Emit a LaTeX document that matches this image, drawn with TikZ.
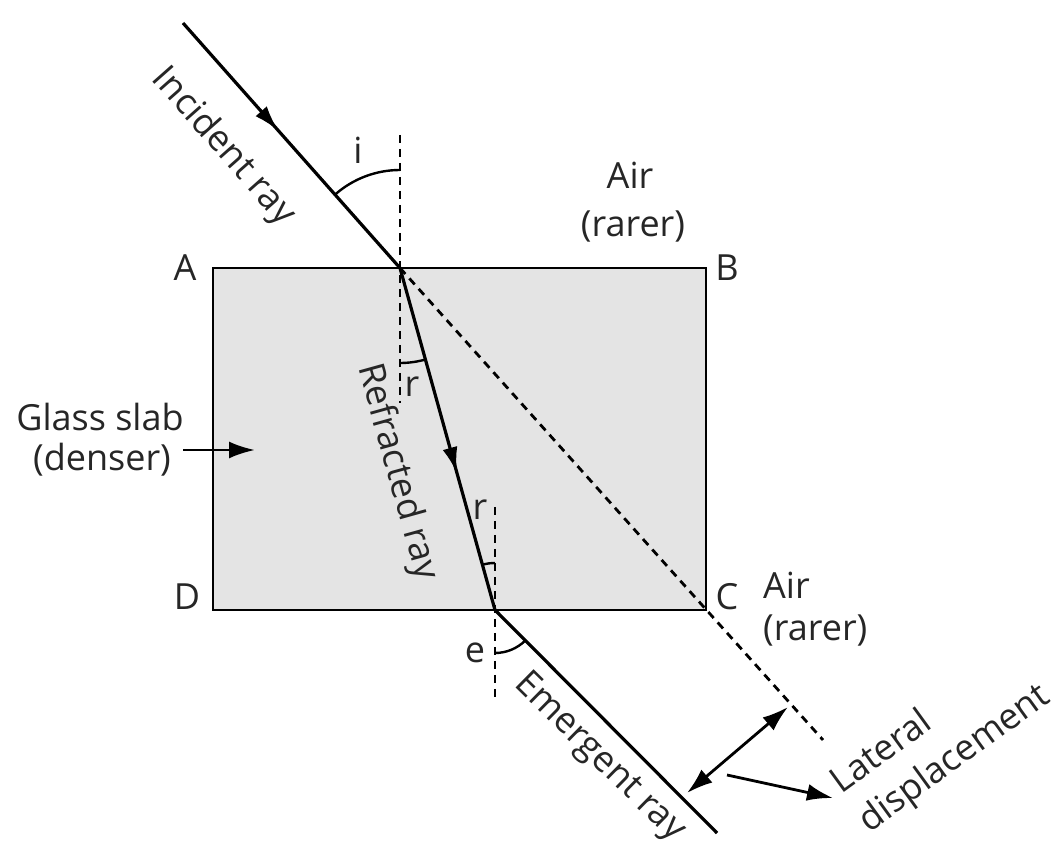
\documentclass[tikz,border=0pt]{standalone}
\usepackage{fontspec}
\setmainfont{Open Sans}
\usetikzlibrary{arrows.meta,decorations.markings}
\definecolor{slabgray}{RGB}{228,228,228}
\begin{document}
\begin{tikzpicture}[x=1pt,y=1pt,
  ray/.style={line width=3.2pt},
  normline/.style={line width=2.8pt, dash pattern=on 8pt off 6pt},
  anglearc/.style={line width=2.4pt},
  lbl/.style={font=\fontsize{36}{44}\selectfont, inner sep=0pt, align=center, text=black!85},
  arrowmark/.style={postaction={decorate}, decoration={markings, mark=at position #1 with {\arrow{Latex[length=26pt,width=15pt]}}}},
  tip/.style={-{Latex[length=26pt,width=17pt]}}
]
\useasboundingbox (0,0) rectangle (1058,844);
% key points
\coordinate (A) at (213,576);
\coordinate (B) at (706,576);
\coordinate (C) at (706,234);
\coordinate (D) at (213,234);
\coordinate (S) at (183,821);
\coordinate (O1) at (400,576);
\coordinate (O2) at (495,234);
\coordinate (E) at (717,11);
\coordinate (X) at (823,104);
\coordinate (N1top) at (400,709);
\coordinate (N1bot) at (400,441);
\coordinate (N2top) at (495,337);
\coordinate (N2bot) at (495,144);
\coordinate (L1) at (687,51);
\coordinate (L2) at (788,137);
\coordinate (P1) at (727,69);
\coordinate (P2) at (833,46);
\coordinate (G1) at (183,394);
\coordinate (G2) at (255,394);
% slab
\fill[slabgray] (A) -- (B) -- (C) -- (D) -- cycle;
% dashed lines
\draw[normline] (N1top) -- (N1bot);
\draw[normline] (N2top) -- (N2bot);
\draw[normline] (O1) -- (X);
% slab outline
\draw[line width=2.8pt] (A) -- (B) -- (C) -- (D) -- cycle;
% rays
\draw[ray, arrowmark=0.44] (S) -- (O1);
\draw[ray, arrowmark=0.60] (O1) -- (O2);
\draw[ray] (O2) -- (E);
% angle arcs
\draw[anglearc] (O1) ++(90:98) arc[start angle=90, end angle=131.5, radius=98];
\draw[anglearc] (O1) ++(270:95) arc[start angle=270, end angle=285.5, radius=95];
\draw[anglearc] (O2) ++(90:47) arc[start angle=90, end angle=105.5, radius=47];
\draw[anglearc] (O2) ++(270:43) arc[start angle=270, end angle=315, radius=43];
% lateral displacement arrows
\draw[line width=2.8pt, {Latex[length=26pt,width=17pt]}-{Latex[length=26pt,width=17pt]}] (L1) -- (L2);
\draw[line width=2.8pt, tip] (P1) -- (P2);
\draw[line width=2.8pt, tip] (G1) -- (G2);
% labels
\node[lbl] (lA) at (185,576) {A};
\node[lbl] (lB) at (727,576) {B};
\node[lbl] (lC) at (727,247) {C};
\node[lbl] (lD) at (187,247) {D};
\node[lbl] (li) at (358,694) {i};
\node[lbl] (lr1) at (412,457) {r};
\node[lbl] (lr2) at (480,334) {r};
\node[lbl] (le) at (475,191) {e};
\node[lbl] (air1) at (630,669) {Air};
\node[lbl] (rar1) at (633,617) {(rarer)};
\node[lbl, anchor=west] (air2) at (763,259) {Air};
\node[lbl, anchor=west] (rar2) at (763,214) {(rarer)};
\node[lbl] (glass) at (100,427) {Glass slab};
\node[lbl] (denser) at (102,384) {(denser)};
\node[lbl, rotate=-48.5] (tinc) at (223,697) {Incident ray};
\node[lbl, rotate=-74.5] (tref) at (397,372) {Refracted ray};
\node[lbl, rotate=-44.5] (temg) at (599,86) {Emergent ray};
\node[lbl, rotate=36, align=left, font=\fontsize{36}{48}\selectfont] (tlat) at (941,104) {Lateral\\displacement};
\end{tikzpicture}
\end{document}
